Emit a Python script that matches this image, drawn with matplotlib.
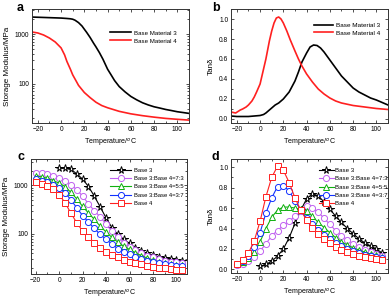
import matplotlib.pyplot as plt
from matplotlib.ticker import MultipleLocator, LogLocator, NullFormatter
import numpy as np

plt.rcParams['font.family'] = ['Liberation Sans', 'DejaVu Sans']

# panel a / b : continuous curves (temperature in degC)
t_a3 = [-25, -20, -10, 0, 5, 8, 10, 12, 15, 18, 20, 22, 25, 28, 30, 33, 36, 40, 43, 46,
        50, 55, 60, 65, 70, 75, 80, 85, 90, 95, 100, 105, 110]
e_a3 = [2200, 2180, 2140, 2100, 2060, 2030, 1990, 1900, 1700, 1450, 1250, 1080, 850, 650,
        550, 420, 310, 195, 150, 115, 87, 68, 55, 47, 41, 37, 34, 32, 30, 28.5, 27, 26, 25]
t_a4 = [-25, -20, -15, -10, -5, 0, 3, 5, 8, 10, 13, 15, 20, 25, 30, 35, 40, 50, 60, 70,
        80, 90, 100, 110]
e_a4 = [1100, 1050, 955, 830, 690, 525, 380, 280, 195, 150, 112, 92, 66, 52, 42, 36, 32.5,
        27.5, 24.5, 22.5, 21, 19.8, 19, 18.3]

t_b3 = [-25, -20, -10, -5, 0, 3, 5, 8, 10, 13, 16, 20, 25, 30, 33, 36, 40, 43, 46, 49, 52,
        55, 60, 65, 70, 75, 80, 85, 90, 95, 100, 105, 110]
d_b3 = [0.03, 0.025, 0.025, 0.03, 0.035, 0.045, 0.06, 0.09, 0.11, 0.14, 0.16, 0.20, 0.27,
        0.38, 0.47, 0.57, 0.66, 0.72, 0.74, 0.735, 0.71, 0.67, 0.59, 0.51, 0.43, 0.37, 0.31,
        0.27, 0.24, 0.21, 0.19, 0.165, 0.14]
t_b4 = [-25, -23, -21, -19, -17, -15, -12, -10, -7, -5, -3, 0, 3, 5, 8, 10, 12, 14, 16, 18,
        20, 23, 26, 30, 33, 36, 40, 45, 50, 55, 60, 65, 70, 80, 90, 100, 110]
d_b4 = [0.07, 0.065, 0.06, 0.075, 0.09, 0.10, 0.12, 0.14, 0.18, 0.22, 0.27, 0.35, 0.50, 0.60,
        0.78, 0.88, 0.96, 1.01, 1.02, 1.00, 0.96, 0.88, 0.79, 0.68, 0.60, 0.53, 0.45, 0.37,
        0.30, 0.25, 0.21, 0.18, 0.16, 0.135, 0.12, 0.105, 0.095]

# panel c / d : measured points every 5 degC
t_base3 = list(range(0, 110, 5))
t_blend = list(range(-20, 110, 5))
labels = ['Base 3', 'Base 3:Base 4=7:3', 'Base 3:Base 4=5:5', 'Base 3:Base 4=3:7', 'Base 4']

e_c = [
    [2250, 2250, 2150, 1730, 1350, 950, 600, 360, 215, 135, 98, 78, 64, 52, 45, 40, 37, 34, 32, 30, 29, 28],
    [1840, 1780, 1700, 1600, 1450, 1260, 1030, 820, 600, 420, 300, 225, 160, 115, 85, 66, 55, 47, 41, 36, 33, 30, 28, 27, 26, 25],
    [1580, 1500, 1410, 1260, 1110, 950, 720, 530, 370, 270, 200, 145, 110, 85, 68, 56, 48, 41, 36, 32, 29, 27, 25, 24, 23, 22.5],
    [1350, 1260, 1170, 1030, 880, 700, 510, 345, 240, 175, 130, 98, 78, 62, 50, 43, 38, 34, 31, 28, 26.5, 25, 24, 23, 22, 21.5],
    [1150, 1080, 980, 840, 650, 440, 270, 170, 115, 87, 66, 52, 43, 37, 33, 29, 27, 25, 24, 22, 21, 20, 19.5, 19, 18.5, 18],
]
d_d = [
    [0.03, 0.05, 0.08, 0.13, 0.20, 0.31, 0.45, 0.58, 0.69, 0.74, 0.72, 0.66, 0.59, 0.52, 0.46, 0.40, 0.35, 0.30, 0.26, 0.23, 0.20, 0.16],
    [0.04, 0.05, 0.08, 0.12, 0.18, 0.25, 0.33, 0.38, 0.43, 0.47, 0.52, 0.57, 0.62, 0.60, 0.56, 0.50, 0.44, 0.38, 0.33, 0.29, 0.25, 0.22, 0.19, 0.17, 0.15, 0.13],
    [0.05, 0.07, 0.11, 0.17, 0.27, 0.40, 0.51, 0.58, 0.61, 0.61, 0.60, 0.59, 0.57, 0.52, 0.46, 0.41, 0.36, 0.31, 0.27, 0.24, 0.21, 0.19, 0.17, 0.15, 0.14, 0.12],
    [0.05, 0.08, 0.13, 0.22, 0.36, 0.55, 0.70, 0.81, 0.82, 0.77, 0.67, 0.58, 0.50, 0.44, 0.39, 0.34, 0.30, 0.26, 0.23, 0.20, 0.18, 0.16, 0.14, 0.13, 0.12, 0.11],
    [0.05, 0.09, 0.16, 0.28, 0.47, 0.71, 0.90, 1.01, 0.97, 0.85, 0.70, 0.58, 0.48, 0.41, 0.35, 0.30, 0.26, 0.22, 0.19, 0.17, 0.15, 0.13, 0.12, 0.11, 0.10, 0.09],
]

colors = ['black', '#c060f0', '#10b010', '#1030ff', '#ff2020']
markers = ['*', 'o', '^', 'o', 's']

W, H = 391, 300
fig = plt.figure(figsize=(W / 100, H / 100), dpi=100)


def box(l, t, r, b):
    return [l / W, 1 - b / H, (r - l) / W, (b - t) / H]


ax_a = fig.add_axes(box(32, 9, 189, 123))
ax_b = fig.add_axes(box(231, 9, 388, 123))
ax_c = fig.add_axes(box(31, 159, 187, 274))
ax_d = fig.add_axes(box(231, 159, 388, 273))

fs = 4.8


def style(ax, log=False):
    ax.tick_params(which='both', direction='in', top=True, right=True, labelsize=fs,
                   width=0.6, pad=2, color='#333333')
    ax.tick_params(which='major', length=2.5)
    ax.tick_params(which='minor', length=1.4)
    ax.xaxis.set_major_locator(MultipleLocator(20))
    ax.xaxis.set_minor_locator(MultipleLocator(10))
    if log:
        ax.set_yscale('log')
        ax.yaxis.set_major_locator(LogLocator(base=10, numticks=10))
        ax.yaxis.set_minor_locator(LogLocator(base=10, subs=np.arange(2, 10), numticks=10))
        ax.yaxis.set_minor_formatter(NullFormatter())
        ax.yaxis.set_major_formatter(plt.FuncFormatter(lambda v, p: f'{v:g}'))
    else:
        ax.yaxis.set_major_locator(MultipleLocator(0.2))
        ax.yaxis.set_minor_locator(MultipleLocator(0.1))
        ax.yaxis.set_major_formatter(plt.FuncFormatter(lambda v, p: f'{v:.1f}'))
    for s in ax.spines.values():
        s.set_linewidth(0.7)
        s.set_color('#333333')
    ax.set_xlabel('Temperature/$^o$C', fontsize=fs + 0.3, labelpad=3)
    ax.set_ylabel('Storage Modulus/MPa' if log else 'Tan\u03b4', fontsize=5.8, labelpad=3)


# a
ax_a.plot(t_a3, e_a3, color='black', lw=1.2, label='Base Material 3')
ax_a.plot(t_a4, e_a4, color='#ff2020', lw=1.2, label='Base Material 4')
style(ax_a, log=True)
ax_a.set_xlim(-25, 110)
ax_a.set_ylim(16, 3200)
ax_a.legend(loc='upper left', bbox_to_anchor=(0.48, 0.84), frameon=False, fontsize=4.4,
            handlelength=3.4, handletextpad=0.4, labelspacing=0.45, borderpad=0)

# b
ax_b.plot(t_b3, d_b3, color='black', lw=1.2, label='Base Material 3')
ax_b.plot(t_b4, d_b4, color='#ff2020', lw=1.2, label='Base Material 4')
style(ax_b)
ax_b.set_xlim(-25, 110)
ax_b.set_ylim(-0.04, 1.1)
ax_b.legend(loc='upper left', bbox_to_anchor=(0.51, 0.91), frameon=False, fontsize=4.6,
            handlelength=3.0, handletextpad=0.4, labelspacing=0.35, borderpad=0)

# c, d
for ax, data, log in ((ax_c, e_c, True), (ax_d, d_d, False)):
    for i, lab in enumerate(labels):
        t = t_base3 if i == 0 else t_blend
        ms = 5.5 if i == 0 else 4.4
        ax.plot(t, data[i], color=colors[i], lw=0.8, marker=markers[i], ms=ms,
                mfc='white', mec=colors[i], mew=0.7, label=lab)
    style(ax, log=log)

ax_c.legend(loc='upper left', bbox_to_anchor=(0.49, 0.95), frameon=False, fontsize=4.2,
            handlelength=3.6, handletextpad=0.4, labelspacing=0.55, borderpad=0)
ax_d.legend(loc='upper left', bbox_to_anchor=(0.54, 0.95), frameon=False, fontsize=4.4,
            handlelength=2.4, handletextpad=0.3, labelspacing=0.5, borderpad=0)

ax_c.set_xlim(-24, 109)
ax_c.set_ylim(15, 3500)
ax_d.set_xlim(-25, 110)
ax_d.set_ylim(-0.035, 1.08)

for lab, x, y in (('a', 17, 2), ('b', 212, 2), ('c', 17, 151), ('d', 212, 151)):
    fig.text(x / W, 1 - y / H, lab, fontsize=9, fontweight='bold', va='top', ha='left')

fig.savefig('out.png', dpi=100)
